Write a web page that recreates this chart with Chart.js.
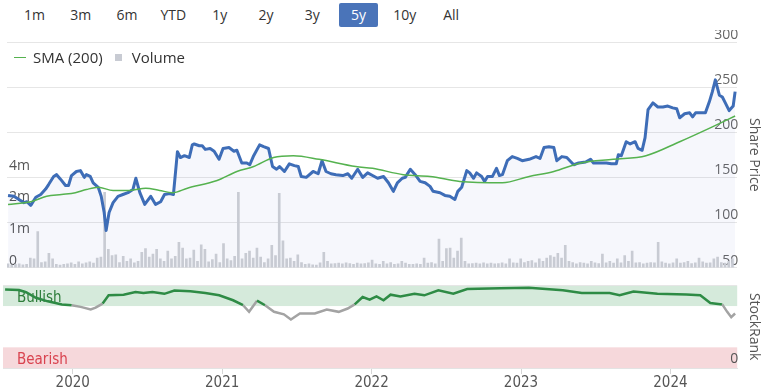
<!DOCTYPE html>
<html>
<head>
<meta charset="utf-8">
<script src="https://cdn.jsdelivr.net/npm/chart.js@4.4.1/dist/chart.umd.min.js"></script>
<style>
body { margin: 0; background: #fff; font-family: 'Open Sans', sans-serif; }
#wrap { position: relative; width: 768px; height: 392px; overflow: hidden; }
#ranges { position: absolute; left: 15px; top: 3px; display: flex; }
#ranges span { width: 39px; margin-right: 7.3px; height: 24px; line-height: 24px; text-align: center; font-size: 14px; color: #333; border-radius: 2px; }
#ranges span.on { background: #4a74b9; color: #fff; }
canvas { position: absolute; left: 0; }
#priceChart { top: 30px; }
#rankChart { top: 276px; }
#legend { position: absolute; left: 14px; top: 47px; height: 20px; display: flex; align-items: center; font-size: 15px; color: #333; }
#legend .item { display: flex; align-items: center; margin-right: 12px; }
#legend .line { width: 12px; height: 0; border-top: 1.5px solid; margin-right: 7px; }
#legend .box { width: 7px; height: 7px; margin-right: 10px; }
</style>
</head>
<body>
<div id="wrap">
	<div id="ranges"></div>
	<canvas id="priceChart" width="768" height="248"></canvas>
	<canvas id="rankChart" width="768" height="116"></canvas>
	<div id="legend"></div>
</div>
<script>
var ranges = ['1m', '3m', '6m', 'YTD', '1y', '2y', '3y', '5y', '10y', 'All'];
var activeRange = '5y';

var xMin = 2019.533, xMax = 2024.447;
var yearTicks = [2020, 2021, 2022, 2023, 2024];
var priceTicks = [50, 100, 150, 200, 250, 300];
var volumeTicks = [0, 1, 2, 4]; // millions
var rankTicks = [0, 100];

// share price (dates as decimal years)
var priceDates = [
	2019.540, 2019.580, 2019.613, 2019.647, 2019.667, 2019.693, 2019.727, 2019.760, 2019.793, 2019.813,
	2019.847, 2019.867, 2019.893, 2019.927, 2019.947, 2019.967, 2020.000, 2020.027, 2020.053, 2020.067,
	2020.093, 2020.113, 2020.147, 2020.167, 2020.187, 2020.200, 2020.220, 2020.247, 2020.280, 2020.313,
	2020.347, 2020.380, 2020.400, 2020.427, 2020.460, 2020.500, 2020.533, 2020.567, 2020.593, 2020.627,
	2020.653, 2020.680, 2020.700, 2020.727, 2020.760, 2020.780, 2020.793, 2020.827, 2020.847, 2020.867,
	2020.900, 2020.927, 2020.960, 2020.987, 2021.027, 2021.060, 2021.080, 2021.113, 2021.147, 2021.167,
	2021.193, 2021.233, 2021.260, 2021.293, 2021.320, 2021.347, 2021.367, 2021.400, 2021.433, 2021.467,
	2021.493, 2021.513, 2021.547, 2021.593, 2021.627, 2021.653, 2021.680, 2021.713, 2021.747, 2021.793,
	2021.827, 2021.853, 2021.893, 2021.927, 2021.960, 2021.993, 2022.027, 2022.067, 2022.100, 2022.133,
	2022.160, 2022.193, 2022.213, 2022.247, 2022.280, 2022.313, 2022.347, 2022.380, 2022.400, 2022.447,
	2022.480, 2022.513, 2022.547, 2022.567, 2022.593, 2022.627, 2022.647, 2022.673, 2022.693, 2022.727,
	2022.747, 2022.767, 2022.800, 2022.827, 2022.847, 2022.867, 2022.900, 2022.933, 2022.967, 2023.000,
	2023.047, 2023.093, 2023.120, 2023.147, 2023.180, 2023.213, 2023.233, 2023.267, 2023.300, 2023.347,
	2023.380, 2023.427, 2023.460, 2023.480, 2023.527, 2023.567, 2023.600, 2023.633, 2023.647, 2023.667,
	2023.700, 2023.727, 2023.760, 2023.780, 2023.807, 2023.827, 2023.847, 2023.880, 2023.913, 2023.947,
	2023.980, 2024.013, 2024.040, 2024.060, 2024.093, 2024.127, 2024.147, 2024.167, 2024.200, 2024.233,
	2024.260, 2024.280, 2024.300, 2024.327, 2024.347, 2024.367, 2024.393, 2024.420, 2024.433
];
var prices = [
	130, 129, 125.5, 122, 123, 119, 128, 131, 137, 142,
	151, 153, 148, 141, 141, 152, 156.5, 157.5, 150, 153,
	151, 144, 139, 129, 111, 91, 111, 122, 129, 131,
	133, 136.5, 149, 133, 120, 129, 120, 123, 131, 132,
	131, 178.5, 172, 174, 172, 186, 187, 185, 185, 181,
	182, 179, 170, 182, 183, 179, 180, 166, 166, 164,
	174, 186, 184, 182, 162, 159, 162, 156.5, 165, 163,
	162, 151, 150, 156.5, 154, 168.5, 156.5, 154, 153, 152,
	154, 149, 159, 150, 155, 152, 149, 151, 144, 134.5,
	144, 149, 150, 159, 153, 145.5, 144, 140, 134.5, 133,
	130, 129, 125.5, 134.5, 139, 157.5, 155, 149, 155, 151,
	145.5, 151, 151, 160, 152, 153, 168.5, 173, 171, 168.5,
	170, 173, 171, 183, 184, 183, 168.5, 173, 172, 164,
	166, 167, 170, 166, 166, 166, 165, 165, 175, 174,
	189.5, 187, 189.5, 182, 180, 194, 225, 232.5, 228, 228,
	229, 227, 226, 216, 220.5, 221.5, 217, 221.5, 221.5, 221.5,
	234, 245, 258, 241, 239, 232.5, 224, 229, 245
];

// SMA (200)
var smaDates = [
	2019.540, 2019.693, 2019.800, 2019.900, 2019.993, 2020.067, 2020.147, 2020.247, 2020.360, 2020.467,
	2020.560, 2020.647, 2020.747, 2020.947, 2021.080, 2021.193, 2021.327, 2021.460, 2021.633, 2021.880,
	2021.993, 2022.200, 2022.380, 2022.580, 2022.867, 2023.047, 2023.213, 2023.393, 2023.613, 2023.833,
	2024.060, 2024.280, 2024.433
];
var sma = [
	120, 123, 129, 131, 133, 136.5, 139, 135.5, 135.5, 138,
	135.5, 133, 138, 146.5, 156.5, 162, 172, 174, 170, 162,
	160, 153, 151, 145.5, 144, 151, 156.5, 166, 170, 174,
	189.5, 206, 218
];

// volume in millions, one bar every 1/40 year from volumeStart
var volumeStart = 2019.54;
var volumeStep = 1 / 40;
var volumes = [
	0.12, 0.08, 0.1, 0.12, 0.09, 0.1, 0.3, 0.28, 1.1, 0.16,
	0.18, 0.45, 0.28, 0.1, 0.08, 0.1, 0.12, 0.15, 0.1, 0.18,
	0.12, 0.15, 0.18, 0.14, 0.3, 0.33, 2.6, 0.58, 0.38, 0.4,
	0.16, 0.36, 0.2, 0.28, 0.15, 0.2, 0.48, 0.6, 0.33, 0.43,
	0.58, 0.28, 0.2, 0.52, 0.28, 0.36, 0.8, 0.62, 0.28, 0.3,
	0.55, 0.2, 0.72, 0.58, 0.18, 0.25, 0.43, 0.16, 0.76, 0.28,
	0.22, 0.36, 2.6, 0.28, 0.45, 0.52, 0.3, 0.62, 0.33, 0.16,
	0.28, 0.7, 0.38, 2.55, 0.85, 0.28, 0.3, 0.2, 0.4, 0.16,
	0.1, 0.12, 0.09, 0.08, 0.15, 0.48, 0.2, 0.12, 0.13, 0.14,
	0.12, 0.15, 0.13, 0.1, 0.14, 0.12, 0.13, 0.15, 0.24, 0.12,
	0.1, 0.2, 0.12, 0.16, 0.1, 0.12, 0.2, 0.14, 0.1, 0.1,
	0.12, 0.1, 0.3, 0.14, 0.16, 0.12, 0.9, 0.2, 0.6, 0.62,
	0.3, 0.52, 0.93, 0.2, 0.12, 0.13, 0.14, 0.12, 0.15, 0.12,
	0.14, 0.12, 0.13, 0.15, 0.12, 0.28, 0.15, 0.14, 0.28, 0.16,
	0.2, 0.22, 0.15, 0.28, 0.2, 0.3, 0.38, 0.33, 0.45, 0.3,
	0.7, 0.2, 0.16, 0.12, 0.16, 0.14, 0.12, 0.2, 0.15, 0.13,
	0.43, 0.15, 0.2, 0.14, 0.28, 0.15, 0.38, 0.2, 0.52, 0.15,
	0.16, 0.12, 0.14, 0.16, 0.15, 0.8, 0.18, 0.14, 0.12, 0.15,
	0.28, 0.14, 0.16, 0.2, 0.13, 0.15, 0.3, 0.18, 0.14, 0.15,
	0.28, 0.33, 0.16, 0.14, 0.2, 0.28
];

// StockRank
var rankDates = [
	2019.547, 2019.640, 2019.687, 2019.753, 2019.833, 2019.927, 2019.993, 2020.053, 2020.120, 2020.153,
	2020.200, 2020.240, 2020.340, 2020.420, 2020.473, 2020.533, 2020.613, 2020.680, 2020.787, 2020.887,
	2020.980, 2021.073, 2021.140, 2021.180, 2021.233, 2021.287, 2021.347, 2021.413, 2021.460, 2021.520,
	2021.620, 2021.700, 2021.780, 2021.840, 2021.887, 2021.940, 2021.987, 2022.033, 2022.080, 2022.127,
	2022.193, 2022.287, 2022.353, 2022.447, 2022.547, 2022.640, 2022.860, 2023.053, 2023.280, 2023.407,
	2023.593, 2023.660, 2023.753, 2023.913, 2024.107, 2024.200, 2024.267, 2024.347, 2024.380, 2024.407,
	2024.433
];
var ranks = [
	95, 94.5, 91.7, 85, 80.7, 77, 76, 74, 71, 73,
	78, 88, 88.8, 91.9, 90.7, 91.9, 89.8, 93.8, 93, 90.7,
	88, 82, 76, 68, 81.5, 76, 68, 65, 58.8, 66,
	66, 70.8, 68, 72, 77, 86, 82.7, 86.7, 82, 88.8,
	86.7, 90, 88, 94, 90, 95.6, 96.4, 97.2, 94, 90.7,
	90.7, 88, 92.7, 90, 89, 88, 78.6, 77, 68, 61.5,
	66
];
var bands = [
	{ from: 75, to: 100, label: 'Bullish', color: '#d5eadb', text: '#2e7d3a' },
	{ from: 0, to: 25, label: 'Bearish', color: '#f6d8db', text: '#d9434f' }
];

var narrow = "'Liberation Sans Narrow', 'DejaVu Sans Condensed', sans-serif";

// range buttons
var rangesEl = document.getElementById('ranges');
ranges.forEach(function(r) {
	var s = document.createElement('span');
	s.textContent = r;
	if (r == activeRange) s.className = 'on';
	rangesEl.appendChild(s);
});

function volPos(v) {
	return v <= 1 ? v : 1 + Math.log2(v);
}
function volFromPos(u) {
	return u <= 1 ? u : Math.pow(2, u - 1);
}

var pricePoints = priceDates.map(function(d, i) { return { x: d, y: prices[i] }; });
var smaPoints = smaDates.map(function(d, i) { return { x: d, y: sma[i] }; });
var volumePoints = volumes.map(function(v, i) { return { x: volumeStart + i * volumeStep, y: volPos(v) }; });
var rankPoints = rankDates.map(function(d, i) { return { x: d, y: ranks[i] }; });

Chart.defaults.font.family = "'Open Sans', sans-serif";
Chart.defaults.animation = false;

var priceChart = new Chart(document.getElementById('priceChart'), {
	type: 'bar',
	data: {
		datasets: [{
			type: 'line',
			label: 'SMA (200)',
			data: smaPoints,
			yAxisID: 'y',
			borderColor: '#55b24f',
			backgroundColor: '#55b24f',
			borderWidth: 1.5,
			pointRadius: 0,
			cubicInterpolationMode: 'monotone',
			order: 1
		}, {
			type: 'line',
			label: 'Price',
			data: pricePoints,
			yAxisID: 'y',
			borderColor: '#3e6db7',
			backgroundColor: 'rgba(70, 100, 190, 0.05)',
			borderWidth: 3,
			pointRadius: 0,
			fill: 'start',
			tension: 0,
			borderJoinStyle: 'round',
			order: 2
		}, {
			type: 'bar',
			label: 'Volume',
			data: volumePoints,
			yAxisID: 'yVol',
			backgroundColor: '#c8cbd3',
			borderWidth: 0,
			barThickness: 2,
			order: 3
		}]
	},
	options: {
		responsive: false,
		devicePixelRatio: 1,
		layout: { padding: { top: 12, bottom: 7, left: 3, right: 0 } },
		scales: {
			x: {
				type: 'linear',
				min: xMin,
				max: xMax,
				offset: false,
				display: false
			},
			y: {
				position: 'right',
				min: 50,
				max: 300,
				afterBuildTicks: function(s) {
					s.ticks = priceTicks.map(function(v) { return { value: v }; });
				},
				ticks: { mirror: true, padding: 1, labelOffset: -7, color: '#666', font: { size: 14 } },
				grid: { color: '#e6e6e6', drawTicks: false },
				border: { display: false },
				title: { display: true, text: 'Share Price', color: '#555', font: { size: 14 }, padding: 6 }
			},
			yVol: {
				position: 'left',
				min: 0,
				max: 7.13,
				afterBuildTicks: function(s) {
					s.ticks = volumeTicks.map(function(v) { return { value: volPos(v) }; });
				},
				ticks: {
					mirror: true,
					padding: 2,
					labelOffset: -7,
					color: '#555',
					font: { size: 14 },
					callback: function(u) {
						var v = Math.round(volFromPos(u));
						return v == 0 ? '0' : v + 'm';
					}
				},
				grid: { display: false, drawTicks: false },
				border: { display: false }
			}
		},
		plugins: {
			filler: { drawTime: 'beforeDatasetsDraw' },
			tooltip: { enabled: false },
			legend: { display: false }
		}
	}
});

// html legend built from the chart's own legend items (price line is not listed)
var legendEl = document.getElementById('legend');
Chart.defaults.plugins.legend.labels.generateLabels(priceChart).forEach(function(item) {
	if (item.text == 'Price') return;
	var ds = priceChart.data.datasets[item.datasetIndex];
	var el = document.createElement('div');
	el.className = 'item';
	var mark = document.createElement('span');
	if (ds.type == 'line') {
		mark.className = 'line';
		mark.style.borderColor = item.strokeStyle;
	} else {
		mark.className = 'box';
		mark.style.background = item.fillStyle;
	}
	el.appendChild(mark);
	el.appendChild(document.createTextNode(item.text));
	legendEl.appendChild(el);
});

// bullish / bearish bands, painted before the scales so the "0" tick stays visible
var bandPlugin = {
	id: 'bands',
	beforeDraw: function(chart) {
		var ctx = chart.ctx, a = chart.chartArea, y = chart.scales.y;
		ctx.save();
		bands.forEach(function(b) {
			var top = y.getPixelForValue(b.to), bottom = y.getPixelForValue(b.from);
			ctx.fillStyle = b.color;
			ctx.fillRect(a.left, top, a.right - a.left, bottom - top);
			ctx.fillStyle = b.text;
			ctx.font = '15px ' + narrow;
			ctx.textBaseline = 'middle';
			ctx.fillText(b.label, a.left + 14, (top + bottom) / 2 + 2);
		});
		ctx.restore();
	}
};

new Chart(document.getElementById('rankChart'), {
	type: 'line',
	data: {
		datasets: [{
			label: 'StockRank',
			data: rankPoints,
			borderWidth: 2.5,
			pointRadius: 0,
			tension: 0,
			borderColor: '#2e8b45',
			segment: {
				borderColor: function(ctx) {
					return Math.min(ctx.p0.parsed.y, ctx.p1.parsed.y) < 75 ? '#a3a3a3' : '#2e8b45';
				}
			}
		}]
	},
	options: {
		responsive: false,
		devicePixelRatio: 1,
		layout: { padding: { top: 5, bottom: 0, left: 3, right: 0 } },
		scales: {
			x: {
				type: 'linear',
				min: xMin,
				max: xMax,
				afterBuildTicks: function(s) {
					s.ticks = yearTicks.map(function(v) { return { value: v }; });
				},
				ticks: {
					padding: 0,
					maxRotation: 0,
					color: '#555',
					font: { size: 15, family: narrow },
					callback: function(v) { return String(v); }
				},
				grid: { drawOnChartArea: false, tickLength: 6, color: '#d6d6d6' },
				border: { color: '#e3e3e3' }
			},
			y: {
				position: 'right',
				min: 0,
				max: 100,
				afterBuildTicks: function(s) {
					s.ticks = rankTicks.map(function(v) { return { value: v }; });
				},
				ticks: {
					mirror: true,
					padding: 1,
					labelOffset: -9,
					color: '#555',
					font: { size: 14 },
					callback: function(v) { return v == 0 ? '0' : ''; }
				},
				grid: {
					drawTicks: false,
					color: function(ctx) { return ctx.tick && ctx.tick.value == 100 ? '#e6e6e6' : 'rgba(0,0,0,0)'; }
				},
				border: { display: false },
				title: { display: true, text: 'StockRank', color: '#555', font: { size: 14 }, padding: 6 }
			}
		},
		plugins: {
			legend: { display: false },
			tooltip: { enabled: false }
		}
	},
	plugins: [bandPlugin]
});
</script>
</body>
</html>
